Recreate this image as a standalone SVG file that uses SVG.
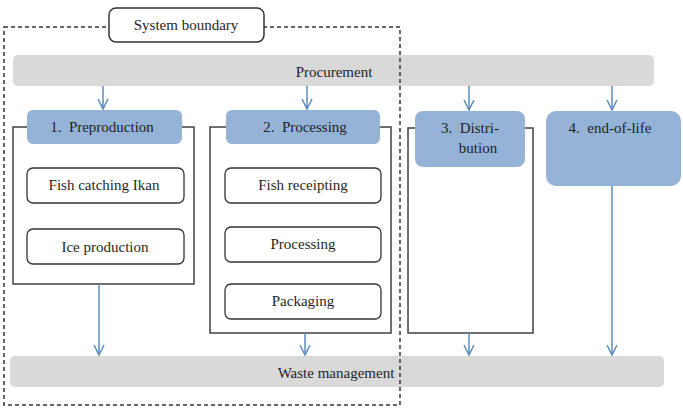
<svg xmlns="http://www.w3.org/2000/svg" width="683" height="408" viewBox="0 0 683 408">
<defs>
<style>
text{font-family:'Liberation Serif','Times New Roman',serif;font-size:15px;fill:#1f1f1f;text-anchor:middle;white-space:pre}
.bar{fill:#d9d9d9}
.hdr{fill:#95b3d7}
.cont{fill:#fff;stroke:#404040;stroke-width:1.5}
.box{fill:#fff;stroke:#333;stroke-width:1.3}
.arr{fill:none;stroke:#5b8bbf;stroke-width:1.5;marker-end:url(#ah)}
.bnd{fill:none;stroke:#333;stroke-width:1.5;stroke-dasharray:4 3}
</style>
<marker id="ah" viewBox="0 0 12 12" refX="11" refY="6" markerWidth="12" markerHeight="12" markerUnits="userSpaceOnUse" orient="auto">
<path d="M1,1 L11,6 L1,11" fill="none" stroke="#5b8bbf" stroke-width="1.5"/>
</marker>
</defs>
<g id="procurement">
<rect class="bar" x="13" y="55" width="641" height="31" rx="5"/>
<text x="334" y="77">Procurement</text>
</g>
<g id="waste">
<rect class="bar" x="10" y="356" width="654" height="31" rx="5"/>
<text x="336" y="378">Waste management</text>
</g>
<g id="preproduction">
<path class="cont" d="M28,127 H13 V284 H194 V127 H182"/>
<rect class="hdr" x="27" y="110" width="155" height="34" rx="6"/>
<text x="102" y="132" xml:space="preserve">1.  Preproduction</text>
</g>
<g id="fish-catching">
<rect class="box" x="27" y="168" width="157" height="35" rx="6"/>
<text x="104" y="190">Fish catching Ikan</text>
</g>
<g id="ice-production">
<rect class="box" x="27" y="229" width="157" height="35" rx="6"/>
<text x="105" y="252">Ice production</text>
</g>
<g id="processing-stage">
<path class="cont" d="M226,127 H210 V333 H391 V127 H380"/>
<rect class="hdr" x="226" y="110" width="154" height="34" rx="6"/>
<text x="305" y="132" xml:space="preserve">2.  Processing</text>
</g>
<g id="fish-receipting">
<rect class="box" x="225" y="168" width="156" height="35" rx="6"/>
<text x="303" y="190">Fish receipting</text>
</g>
<g id="processing">
<rect class="box" x="225" y="227" width="156" height="35" rx="6"/>
<text x="303" y="249">Processing</text>
</g>
<g id="packaging">
<rect class="box" x="225" y="284" width="156" height="35" rx="6"/>
<text x="303" y="306">Packaging</text>
</g>
<g id="distribution">
<path class="cont" d="M415,128 H408 V333 H533 V128 H525"/>
<rect class="hdr" x="415" y="111" width="110" height="56" rx="8"/>
<text x="470" y="133" xml:space="preserve">3.  Distri-</text>
<text x="478" y="153">bution</text>
</g>
<g id="end-of-life">
<rect class="hdr" x="546" y="111" width="135" height="75" rx="10"/>
<text x="610" y="133" xml:space="preserve">4.  end-of-life</text>
</g>
<g id="connectors">
<line class="arr" x1="103" y1="86" x2="103" y2="109"/>
<line class="arr" x1="307" y1="86" x2="307" y2="109"/>
<line class="arr" x1="469" y1="86" x2="469" y2="110"/>
<line class="arr" x1="612" y1="86" x2="612" y2="110"/>
<line class="arr" x1="99" y1="284" x2="99" y2="355"/>
<line class="arr" x1="305" y1="333" x2="305" y2="355"/>
<line class="arr" x1="469" y1="333" x2="469" y2="355"/>
<line class="arr" x1="612" y1="186" x2="612" y2="355"/>
</g>
<g id="system-boundary">
<rect class="bnd" x="4" y="27" width="396" height="378"/>
<rect x="109" y="8" width="155" height="34" rx="7" fill="#fff" stroke="#333" stroke-width="1.5"/>
<text x="186" y="30">System boundary</text>
</g>
</svg>
